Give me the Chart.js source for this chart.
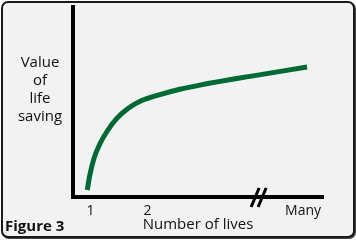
<!DOCTYPE html>
<html><head><meta charset="utf-8">
<script src="https://cdn.jsdelivr.net/npm/chart.js@4.4.1/dist/chart.umd.min.js"></script>
<style>
html,body{margin:0;padding:0;background:#fff;}
#frame{position:absolute;left:1px;top:1px;width:350px;height:233px;border:2px solid #1a1a1a;border-radius:7px;background:#f2f2f2;box-shadow:1px 1px 0 #444;}
#wrap{position:absolute;left:0;top:0;width:356px;height:240px;}
.lbl{position:absolute;font-family:"Open Sans",sans-serif;color:#111;text-align:center;}
</style></head>
<body>
<div id="frame"></div>
<div id="wrap"><canvas id="c" width="356" height="240"></canvas></div>
<div class="lbl" style="left:4px;top:52px;width:72px;font-size:15px;line-height:18px;">Value<br>of<br>life<br>saving</div>
<div class="lbl" style="left:5px;top:215px;font-size:15px;font-weight:bold;">Figure 3</div>
<script>
// Data (x in "number of lives" axis units, y in relative value units)
const livesX = [0.944, 0.985, 1.06, 1.17, 1.30, 1.45, 1.663, 1.898, 2.219, 2.570, 2.921, 3.80, 4.80];
const valueY = [3.7, 11.0, 20.2, 28.3, 35.0, 41.0, 46.7, 50.8, 53.9, 56.7, 58.9, 63.5, 68.4];
const tickValues = [1, 2, 4.73];
const tickLabels = ['1', '2', 'Many'];
const breakValue = 3.95;
const xTitle = 'Number of lives';

const breakPlugin = {
  id: 'breakMarks',
  afterDraw(chart) {
    const ctx = chart.ctx, xs = chart.scales.x;
    const px = xs.getPixelForValue(breakValue);
    const py = chart.chartArea.bottom;
    ctx.save();
    ctx.strokeStyle = '#000';
    ctx.lineWidth = 3;
    [-3.5, 3.5].forEach(d => {
      ctx.beginPath();
      ctx.moveTo(px + d - 4, py + 10);
      ctx.lineTo(px + d + 4, py - 9);
      ctx.stroke();
    });
    ctx.restore();
  }
};

new Chart(document.getElementById('c'), {
  type: 'line',
  data: {
    datasets: [{
      data: livesX.map((x, i) => ({x, y: valueY[i]})),
      borderColor: '#006a35',
      borderWidth: 5,
      pointRadius: 0,
      cubicInterpolationMode: 'monotone',
      fill: false
    }]
  },
  options: {
    responsive: false,
    animation: false,
    layout: {padding: {left: 0, top: 7, right: 33, bottom: 0}},
    plugins: {legend: {display: false}, tooltip: {enabled: false}},
    scales: {
      x: {
        type: 'linear', min: 0.693, max: 5.08,
        grid: {display: false, drawTicks: false},
        border: {display: true, color: '#000', width: 4},
        afterBuildTicks: a => { a.ticks = tickValues.map(v => ({value: v})); },
        afterFit: s => { s.height = 43; },
        ticks: {
          autoSkip: false, maxRotation: 0, padding: 6, color: '#111',
          font: {family: 'Open Sans', size: 14},
          callback: (v) => { const i = tickValues.indexOf(v); return i >= 0 ? tickLabels[i] : ''; }
        },
        title: {display: true, text: xTitle, color: '#111', font: {family: 'Open Sans', size: 15}, padding: {top: 0, bottom: 6}}
      },
      y: {
        min: 0, max: 100,
        grid: {display: false, drawTicks: false},
        border: {display: true, color: '#000', width: 4},
        ticks: {display: false},
        afterFit: s => { s.width = 73; }
      }
    }
  },
  plugins: [breakPlugin]
});
</script>
</body></html>
